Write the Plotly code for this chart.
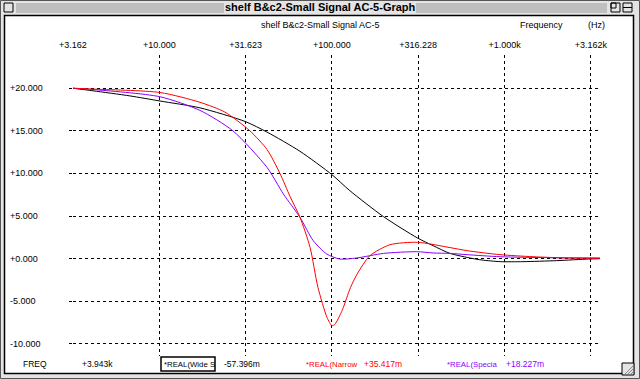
import plotly.graph_objects as go

# ---- data ----
freq_wide = [3.162, 4.13, 6.76, 10.1, 17.2, 31.4, 42.1, 65.3, 100, 127, 199, 313, 385, 483, 646, 741, 942, 1280, 2005, 3076, 3575]
wide = [20.0, 19.7, 19.1, 18.5, 17.7, 16.1, 14.85, 12.6, 9.86, 7.98, 4.93, 2.43, 1.53, 0.62, 0.04, -0.16, -0.35, -0.35, -0.23, -0.04, 0.0]

freq_narrow = [3.162, 4.13, 10.1, 17.2, 24.0, 33.5, 42.1, 50.0, 57.2, 65.3, 74.7, 83.0, 93.7, 100, 104, 115, 128, 140, 166, 217, 313, 483, 607, 942, 1462, 2302, 3575]
narrow = [20.0, 19.9, 19.5, 18.35, 17.2, 15.0, 12.8, 10.0, 7.3, 4.85, 1.33, -3.37, -6.9, -7.86, -7.7, -6.0, -3.4, -1.8, 0.35, 1.64, 1.92, 1.3, 0.94, 0.47, 0.23, 0.08, 0.04]

freq_special = [3.162, 4.13, 10.1, 17.2, 26.7, 42.1, 52.3, 65.3, 78, 93.3, 111, 139, 199, 310, 385, 483, 607, 942, 1836, 3575]
special = [20.0, 19.85, 19.0, 17.4, 15.0, 10.7, 7.6, 4.85, 2.1, 0.55, -0.04, 0.08, 0.62, 0.82, 0.67, 0.62, 0.47, 0.23, 0.12, 0.08]

x_tickvals = [3.162, 10, 31.623, 100, 316.228, 1000, 3162]
x_ticktext = ["+3.162", "+10.000", "+31.623", "+100.000", "+316.228", "+1.000k", "+3.162k"]
y_tickvals = [20, 15, 10, 5, 0, -5, -10]
y_ticktext = ["+20.000", "+15.000", "+10.000", "+5.000", "+0.000", "-5.000", "-10.000"]

window_title = "shelf B&c2-Small Signal AC-5-Graph"
chart_title = "shelf B&c2-Small Signal AC-5"

FONT = "Liberation Sans"
W, H = 640, 379
L, R, T, B = 73, 40, 55, 23
PW, PH = W - L - R, H - T - B


def px(x):
    return (x - L) / PW


def py(y):
    return (H - B - y) / PH


fig = go.Figure()
fig.add_trace(go.Scatter(x=freq_wide, y=wide, mode="lines", line=dict(color="black", width=1, shape="spline", smoothing=0.7), name="Wide"))
fig.add_trace(go.Scatter(x=freq_special, y=special, mode="lines", line=dict(color="#8a00ff", width=1, shape="spline", smoothing=0.7), name="Special"))
fig.add_trace(go.Scatter(x=freq_narrow, y=narrow, mode="lines", line=dict(color="#ff0000", width=1, shape="spline", smoothing=0.7), name="Narrow"))

shapes = []
# window chrome
shapes.append(dict(type="rect", xref="paper", yref="paper", x0=px(0), x1=px(640), y0=py(0), y1=py(379), fillcolor="#e4e4e4", line=dict(width=0), layer="below"))
shapes.append(dict(type="rect", xref="paper", yref="paper", x0=px(4.5), x1=px(633.5), y0=py(15.5), y1=py(373.5), fillcolor="white", line=dict(color="black", width=1.5), layer="below"))
shapes.append(dict(type="rect", xref="paper", yref="paper", x0=px(0.5), x1=px(639.5), y0=py(0.5), y1=py(378.5), line=dict(color="#555", width=1)))
for yy in [4, 6, 8, 10, 12]:
    shapes.append(dict(type="line", xref="paper", yref="paper", x0=px(16), x1=px(607), y0=py(yy), y1=py(yy), line=dict(color="#9a9a9a", width=1)))
shapes.append(dict(type="rect", xref="paper", yref="paper", x0=px(224), x1=px(416), y0=py(1), y1=py(14), fillcolor="#e4e4e4", line=dict(width=0)))
# close box & zoom boxes
shapes.append(dict(type="rect", xref="paper", yref="paper", x0=px(4), x1=px(13), y0=py(3), y1=py(12), fillcolor="#e4e4e4", line=dict(color="black", width=1)))
shapes.append(dict(type="rect", xref="paper", yref="paper", x0=px(611), x1=px(620), y0=py(3), y1=py(12), fillcolor="#e4e4e4", line=dict(color="black", width=1)))
shapes.append(dict(type="rect", xref="paper", yref="paper", x0=px(623), x1=px(632), y0=py(3), y1=py(12), fillcolor="#e4e4e4", line=dict(color="black", width=1)))
shapes.append(dict(type="line", xref="paper", yref="paper", x0=px(623), x1=px(632), y0=py(7.5), y1=py(7.5), line=dict(color="black", width=1)))
shapes.append(dict(type="rect", xref="paper", yref="paper", x0=px(611), x1=px(616), y0=py(3), y1=py(8), line=dict(color="black", width=1)))
# grow box
shapes.append(dict(type="rect", xref="paper", yref="paper", x0=px(622), x1=px(634), y0=py(363), y1=py(375), fillcolor="#e4e4e4", line=dict(color="black", width=1)))
for d in [3, 6, 9]:
    shapes.append(dict(type="line", xref="paper", yref="paper", x0=px(622 + d), x1=px(633), y0=py(374), y1=py(363 + d), line=dict(color="#888", width=1)))
# status value box
shapes.append(dict(type="rect", xref="paper", yref="paper", x0=px(161), x1=px(215), y0=py(357), y1=py(371), line=dict(color="black", width=1.5)))

fig.update_layout(shapes=shapes)

ann = []
ann.append(dict(text="<b>" + window_title + "</b>", x=px(320), y=py(7.5), xref="paper", yref="paper", showarrow=False, font=dict(family=FONT, size=11, color="black"), xanchor="center", yanchor="middle"))
ann.append(dict(text=chart_title, x=px(320), y=py(25), xref="paper", yref="paper", showarrow=False, font=dict(family=FONT, size=9, color="black"), xanchor="center", yanchor="middle"))
ann.append(dict(text="Frequency", x=px(518), y=py(25), xref="paper", yref="paper", showarrow=False, font=dict(family=FONT, size=9, color="black"), xanchor="left", yanchor="middle"))
ann.append(dict(text="(Hz)", x=px(586), y=py(25), xref="paper", yref="paper", showarrow=False, font=dict(family=FONT, size=9, color="black"), xanchor="left", yanchor="middle"))
for v, t in zip(y_tickvals, y_ticktext):
    ann.append(dict(text=t, x=px(8), y=v, xref="paper", yref="y", showarrow=False, font=dict(family=FONT, size=9, color="black"), xanchor="left", yanchor="middle"))

status = [
    ("FREQ", 21, "black", 8.5),
    ("+3.943k", 80, "black", 8.5),
    ("*REAL(Wide S", 162, "black", 7.8),
    ("-57.396m", 222, "black", 8.5),
    ("*REAL(Narrow", 304, "#ff0000", 7.8),
    ("+35.417m", 362, "#ff0000", 8.5),
    ("*REAL(Specia", 445, "#8a00ff", 7.8),
    ("+18.227m", 504, "#8a00ff", 8.5),
]
for t, x, c, s in status:
    ann.append(dict(text=t, x=px(x), y=py(364), xref="paper", yref="paper", showarrow=False, font=dict(family=FONT, size=s, color=c), xanchor="left", yanchor="middle"))
fig.update_layout(annotations=ann)

fig.update_layout(
    width=W, height=H,
    margin=dict(l=L, r=R, t=T, b=B, pad=0),
    paper_bgcolor="white", plot_bgcolor="white",
    showlegend=False,
    xaxis=dict(type="log", range=[0.5, 3.553], side="top", tickvals=x_tickvals, ticktext=x_ticktext,
               showgrid=True, gridcolor="black", gridwidth=1, griddash="3px,3px",
               showline=False, zeroline=False, ticks="", ticklabelstandoff=4,
               tickfont=dict(family=FONT, size=9, color="black")),
    yaxis=dict(range=[-11.42, 23.9], tickvals=y_tickvals, showticklabels=False,
               showgrid=True, gridcolor="black", gridwidth=1, griddash="3px,3px",
               showline=False, zeroline=False, ticks="outside", ticklen=3, tickcolor="black"),
)

fig.write_html("out.html", config={"displayModeBar": False},
               post_script="document.body.style.margin='0';document.body.style.overflow='hidden';")
